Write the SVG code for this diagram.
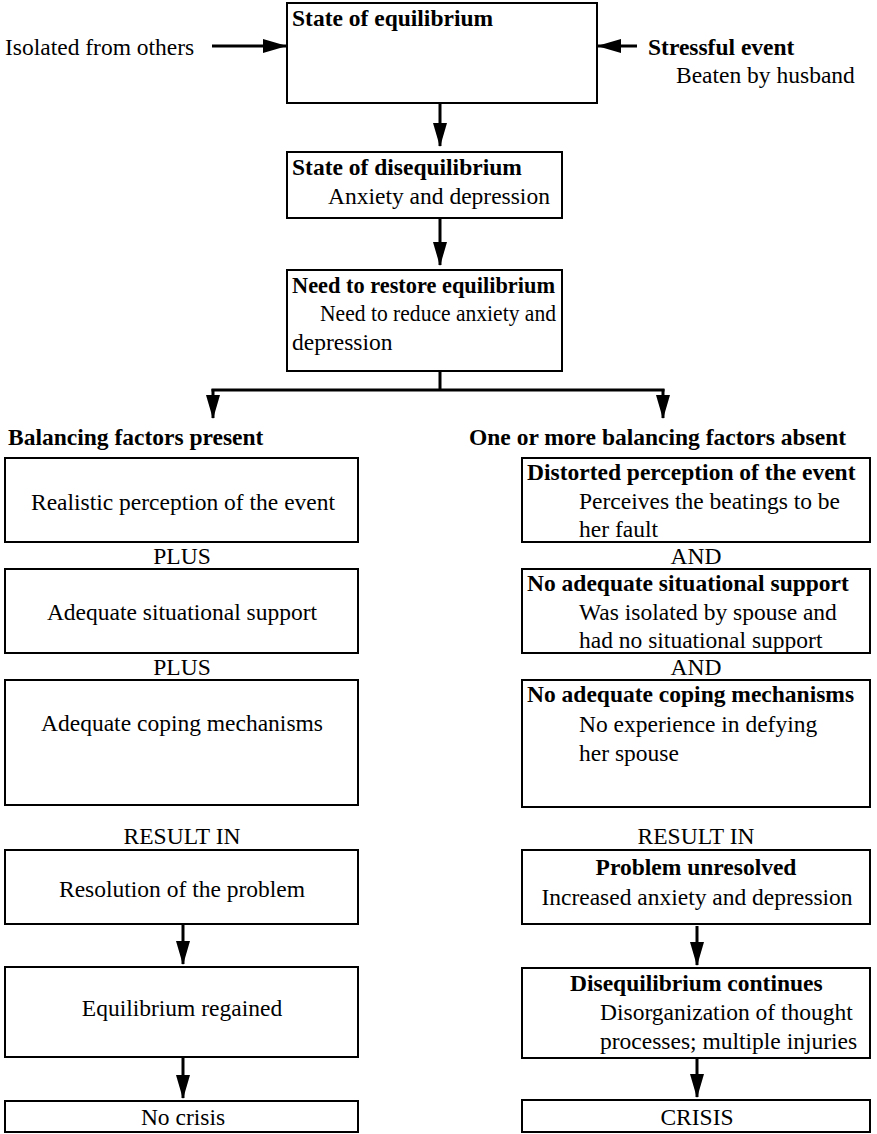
<svg xmlns="http://www.w3.org/2000/svg" width="877" height="1134" viewBox="0 0 877 1134">
<defs>
<marker id="ah" viewBox="0 0 24 14" refX="23" refY="7" markerWidth="24" markerHeight="14" orient="auto" markerUnits="userSpaceOnUse">
<path d="M0,0 L24,7 L0,14 z" fill="#000"/>
</marker>
<style>
text{font-family:"Liberation Serif","Times New Roman",serif;font-size:23.5px;fill:#000}
.b{font-weight:bold}
.c{text-anchor:middle}
.box{fill:#fff;stroke:#000;stroke-width:2}
.ln{fill:none;stroke:#000;stroke-width:3}
.ar{fill:none;stroke:#000;stroke-width:3;marker-end:url(#ah)}
</style>
</defs>
<rect width="877" height="1134" fill="#fff"/>
<g id="connectors">
<line class="ar" x1="212" y1="46" x2="286" y2="46"/>
<line class="ar" x1="637" y1="46" x2="598" y2="46"/>
<line class="ar" x1="440" y1="104" x2="440" y2="146"/>
<line class="ar" x1="440" y1="219" x2="440" y2="265"/>
<line class="ln" x1="440" y1="372" x2="440" y2="390"/>
<line class="ln" x1="211.5" y1="390" x2="664.5" y2="390"/>
<line class="ar" x1="213" y1="389" x2="213" y2="418"/>
<line class="ar" x1="663" y1="389" x2="663" y2="418"/>
<line class="ar" x1="183" y1="925" x2="183" y2="964"/>
<line class="ar" x1="183" y1="1058" x2="183" y2="1098"/>
<line class="ar" x1="697" y1="926" x2="697" y2="965"/>
<line class="ar" x1="697" y1="1059" x2="697" y2="1097"/>
</g>
<g id="isolated"><text x="5" y="55">Isolated from others</text></g>
<g id="stressful"><text class="b" x="648" y="55">Stressful event</text><text x="676" y="83">Beaten by husband</text></g>
<g id="n1"><rect class="box" x="287" y="3" width="310" height="100"/><text class="b" x="292" y="26">State of equilibrium</text></g>
<g id="n2"><rect class="box" x="287" y="152" width="275" height="66"/><text class="b" x="292" y="175">State of disequilibrium</text><text x="328" y="204">Anxiety and depression</text></g>
<g id="n3"><rect class="box" x="287" y="270" width="275" height="101"/><text class="b" x="292" y="293" textLength="263" lengthAdjust="spacingAndGlyphs">Need to restore equilibrium</text><text x="320" y="321" textLength="236" lengthAdjust="spacingAndGlyphs">Need to reduce anxiety and</text><text x="292" y="350">depression</text></g>
<g id="hdrL"><text class="b" x="8" y="445">Balancing factors present</text></g>
<g id="hdrR"><text class="b" x="469" y="445">One or more balancing factors absent</text></g>
<g id="L1"><rect class="box" x="5" y="458" width="353" height="84"/><text class="c" x="183" y="510">Realistic perception of the event</text></g>
<g id="plus1"><text class="c" x="182" y="564">PLUS</text></g>
<g id="L2"><rect class="box" x="5" y="569" width="353" height="84"/><text class="c" x="182" y="620">Adequate situational support</text></g>
<g id="plus2"><text class="c" x="182" y="675">PLUS</text></g>
<g id="L3"><rect class="box" x="5" y="680" width="353" height="125"/><text class="c" x="182" y="731">Adequate coping mechanisms</text></g>
<g id="resL"><text class="c" x="182" y="844">RESULT IN</text></g>
<g id="L4"><rect class="box" x="5" y="850" width="353" height="74"/><text class="c" x="182" y="897">Resolution of the problem</text></g>
<g id="L5"><rect class="box" x="5" y="967" width="353" height="90"/><text class="c" x="182" y="1016">Equilibrium regained</text></g>
<g id="L6"><rect class="box" x="5" y="1101" width="353" height="31"/><text class="c" x="183" y="1125">No crisis</text></g>
<g id="R1"><rect class="box" x="522" y="458" width="348" height="84"/><text class="b" x="527" y="480">Distorted perception of the event</text><text x="579" y="509">Perceives the beatings to be</text><text x="579" y="537">her fault</text></g>
<g id="and1"><text class="c" x="696" y="564">AND</text></g>
<g id="R2"><rect class="box" x="522" y="569" width="348" height="84"/><text class="b" x="527" y="591">No adequate situational support</text><text x="579" y="620">Was isolated by spouse and</text><text x="579" y="648">had no situational support</text></g>
<g id="and2"><text class="c" x="696" y="675">AND</text></g>
<g id="R3"><rect class="box" x="522" y="680" width="348" height="127"/><text class="b" x="527" y="702">No adequate coping mechanisms</text><text x="579" y="732">No experience in defying</text><text x="579" y="761">her spouse</text></g>
<g id="resR"><text class="c" x="696" y="844">RESULT IN</text></g>
<g id="R4"><rect class="box" x="522" y="850" width="348" height="74"/><text class="b c" x="696" y="875">Problem unresolved</text><text class="c" x="697" y="905">Increased anxiety and depression</text></g>
<g id="R5"><rect class="box" x="522" y="968" width="348" height="90"/><text class="b" x="570" y="991">Disequilibrium continues</text><text x="600" y="1020">Disorganization of thought</text><text x="600" y="1049">processes; multiple injuries</text></g>
<g id="R6"><rect class="box" x="522" y="1100" width="348" height="32"/><text class="c" x="697" y="1125">CRISIS</text></g>
</svg>
